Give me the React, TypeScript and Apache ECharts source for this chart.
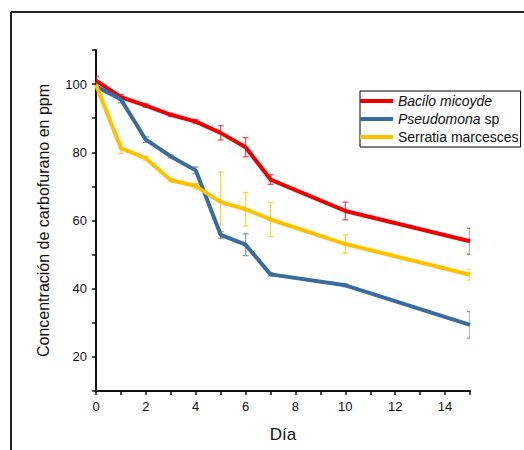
import React, { useEffect, useRef } from "react";
import * as echarts from "echarts";

const days = [0, 1, 2, 3, 4, 5, 6, 7, 10, 15];
const bacilo = [101, 96.2, 93.7, 91, 89, 85.7, 81.5, 72, 62.8, 53.9];
const baciloErr = [1.3, 0.8, 0.5, 0.5, 0.6, 2.1, 2.8, 1.4, 2.6, 3.8];
const pseudo = [99.4, 95.5, 83.7, 78.8, 74.7, 55.8, 52.9, 44.2, 41, 29.4];
const pseudoErr = [0.8, 1.0, 0.8, 0.4, 1.0, 1.0, 3.2, 0.5, 0.4, 3.9];
const serratia = [99.8, 81.2, 78.2, 71.8, 70.1, 65.4, 63.3, 60.3, 53.1, 44.1];
const serratiaErr = [1.0, 1.6, 0.5, 0.5, 0.8, 8.8, 4.9, 5.0, 2.7, 1.6];

const seriesNames = ["Bacilo micoyde", "Pseudomona sp", "Serratia marcesces"];
const yLabels = [20, 40, 60, 80, 100];
const xLabels = [0, 2, 4, 6, 8, 10, 12, 14];

const FONT = "'Liberation Sans', Arial, sans-serif";

function errData(vals: number[], errs: number[]) {
  return days.map((d, i) => [d, vals[i] - errs[i], vals[i] + errs[i]]);
}

function errSeries(name: string, vals: number[], errs: number[], color: string) {
  return {
    type: "custom",
    name,
    clip: true,
    z: 1,
    data: errData(vals, errs),
    encode: { x: 0, y: [1, 2] },
    renderItem: (params: any, api: any) => {
      const x = api.value(0);
      const lo = api.coord([x, api.value(1)]);
      const hi = api.coord([x, api.value(2)]);
      const w = 3;
      const style = { stroke: color, lineWidth: 1.3, fill: "none" };
      return {
        type: "group",
        children: [
          { type: "line", shape: { x1: lo[0], y1: lo[1], x2: hi[0], y2: hi[1] }, style },
          { type: "line", shape: { x1: lo[0] - w, y1: lo[1], x2: lo[0] + w, y2: lo[1] }, style },
          { type: "line", shape: { x1: hi[0] - w, y1: hi[1], x2: hi[0] + w, y2: hi[1] }, style },
        ],
      };
    },
  };
}

function lineSeries(name: string, vals: number[], color: string) {
  return {
    type: "line",
    name,
    z: 3,
    data: days.map((d, i) => [d, vals[i]]),
    showSymbol: false,
    symbol: "none",
    lineStyle: { width: 4, color },
    itemStyle: { color },
  };
}

export default function App() {
  const ref = useRef<HTMLDivElement>(null);
  useEffect(() => {
    if (!ref.current) return;
    const chart = echarts.init(ref.current, null, { renderer: "svg" });
    const red = "#ee0000";
    const blue = "#386b9e";
    const yellow = "#ffc000";
    chart.setOption({
      animation: false,
      textStyle: { fontFamily: FONT },
      grid: { left: 96, right: 54, top: 50, bottom: 59, containLabel: false },
      graphic: [
        { type: "line", shape: { x1: 11, y1: 12, x2: 524, y2: 12 }, style: { stroke: "#222", lineWidth: 2 } },
        { type: "line", shape: { x1: 11, y1: 12, x2: 11, y2: 450 }, style: { stroke: "#222", lineWidth: 2 } },
      ],
      legend: {
        data: seriesNames.map((n, i) => ({
          name: n,
          itemStyle: { color: [red, blue, yellow][i] },
        })),
        orient: "vertical",
        left: 360,
        top: 91,
        icon: "rect",
        itemWidth: 33,
        itemHeight: 4,
        itemGap: 4,
        padding: [3, 2, 3, 0],
        borderColor: "#000",
        borderWidth: 1,
        formatter: (name: string) => {
          if (name === "Bacilo micoyde") return "{i|Bacilo micoyde}";
          if (name === "Pseudomona sp") return "{i|Pseudomona}{n| sp}";
          return "{n|Serratia marcesces}";
        },
        textStyle: {
          fontSize: 14,
          color: "#111",
          fontFamily: FONT,
          rich: {
            i: { fontStyle: "italic", fontSize: 14, color: "#111", fontFamily: FONT, lineHeight: 16 },
            n: { fontSize: 14, color: "#111", fontFamily: FONT, lineHeight: 16 },
          },
        },
      },
      xAxis: {
        type: "value",
        min: 0,
        max: 15,
        interval: 1,
        name: "Día",
        nameLocation: "middle",
        nameGap: 35,
        nameTextStyle: { fontSize: 17, color: "#111", fontFamily: FONT },
        axisLine: { show: true, onZero: false, lineStyle: { color: "#111", width: 2 } },
        axisTick: { show: true, length: 4, lineStyle: { color: "#111", width: 1.5 } },
        axisLabel: {
          fontSize: 13,
          color: "#111",
          margin: 9,
          formatter: (v: number) => (xLabels.includes(v) ? String(v) : ""),
        },
        splitLine: { show: false },
      },
      yAxis: {
        type: "value",
        min: 10,
        max: 110,
        interval: 10,
        name: "Concentración de carbofurano en ppm",
        nameLocation: "middle",
        nameGap: 45,
        nameTextStyle: { fontSize: 16, color: "#111", fontFamily: FONT },
        axisLine: { show: true, onZero: false, lineStyle: { color: "#111", width: 2 } },
        axisTick: { show: true, length: 4, lineStyle: { color: "#111", width: 1.5 } },
        axisLabel: {
          fontSize: 13,
          color: "#111",
          margin: 9,
          formatter: (v: number) => (yLabels.includes(v) ? String(v) : ""),
        },
        splitLine: { show: false },
      },
      series: [
        errSeries("Bacilo micoyde", bacilo, baciloErr, "rgba(238,30,40,0.75)"),
        errSeries("Pseudomona sp", pseudo, pseudoErr, "rgba(70,110,160,0.65)"),
        errSeries("Serratia marcesces", serratia, serratiaErr, "rgba(255,200,40,0.8)"),
        lineSeries("Bacilo micoyde", bacilo, red),
        lineSeries("Pseudomona sp", pseudo, blue),
        lineSeries("Serratia marcesces", serratia, yellow),
      ],
    });
    return () => chart.dispose();
  }, []);
  return (
    <div
      ref={ref}
      style={{ position: "fixed", left: 0, top: 0, width: 524, height: 450, background: "#fff" }}
    />
  );
}
